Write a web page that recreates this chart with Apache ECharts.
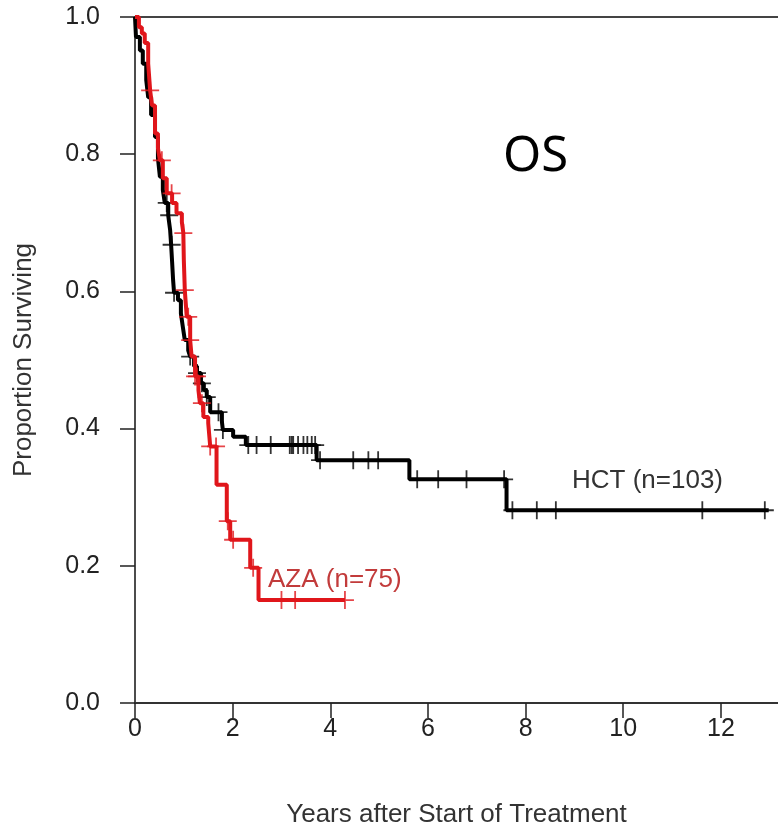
<!DOCTYPE html>
<html>
<head>
<meta charset="utf-8">
<script src="https://cdn.jsdelivr.net/npm/echarts@6/dist/echarts.min.js"></script>
<style>
  html, body { margin: 0; padding: 0; background: #fff; }
  #main { width: 778px; height: 827px; }
</style>
</head>
<body>
<div id="main"></div>
<script>
// Kaplan-Meier steps (time in years, proportion surviving)
const hctTimes = [0, 0.02, 0.10, 0.16, 0.23, 0.27, 0.33, 0.41, 0.47, 0.51, 0.57, 0.61, 0.68, 0.72, 0.74, 0.76, 0.78, 0.80, 0.88, 0.94, 0.98, 1.02, 1.09, 1.13, 1.21, 1.27, 1.35, 1.41, 1.47, 1.54, 1.78, 1.80, 2.01, 2.27, 3.72, 5.62, 7.61, 12.98]
const hctSurv = [1.0, 0.971, 0.951, 0.932, 0.908, 0.883, 0.857, 0.825, 0.794, 0.767, 0.748, 0.729, 0.711, 0.689, 0.668, 0.643, 0.617, 0.598, 0.587, 0.568, 0.548, 0.529, 0.514, 0.505, 0.491, 0.481, 0.466, 0.456, 0.446, 0.424, 0.410, 0.398, 0.388, 0.376, 0.354, 0.326, 0.281, 0.281]
const hctCensored = [0.65, 0.70, 0.75, 0.80, 1.13, 1.27, 1.37, 1.47, 1.71, 1.80, 2.32, 2.49, 2.78, 3.17, 3.21, 3.24, 3.34, 3.45, 3.53, 3.62, 3.69, 3.79, 4.47, 4.78, 4.98, 5.78, 6.21, 6.79, 7.56, 7.73, 8.23, 8.62, 11.62, 12.9]

const azaTimes = [0, 0.08, 0.14, 0.20, 0.27, 0.31, 0.35, 0.41, 0.47, 0.51, 0.57, 0.65, 0.76, 0.85, 0.96, 0.99, 1.00, 1.01, 1.02, 1.06, 1.13, 1.16, 1.23, 1.30, 1.33, 1.40, 1.50, 1.54, 1.67, 1.88, 1.95, 2.36, 2.53, 4.30]
const azaSurv = [1.0, 0.985, 0.976, 0.962, 0.932, 0.893, 0.871, 0.830, 0.809, 0.791, 0.765, 0.743, 0.729, 0.714, 0.701, 0.685, 0.646, 0.624, 0.602, 0.563, 0.529, 0.505, 0.476, 0.456, 0.437, 0.417, 0.408, 0.374, 0.318, 0.265, 0.238, 0.197, 0.150, 0.150]
const azaCensored = [0.31, 0.55, 0.75, 0.99, 1.02, 1.09, 1.13, 1.23, 1.27, 1.37, 1.54, 1.66, 1.90, 2.01, 2.42, 3.00, 3.28, 4.30]

const xTicks = [0, 2, 4, 6, 8, 10, 12]
const yTicks = [0, 0.2, 0.4, 0.6, 0.8, 1.0]

// survival value at time t from the step arrays
function survAt(times, surv, t) {
  let s = surv[0]
  for (let i = 0; i < times.length; i++) {
    if (times[i] <= t) s = surv[i]
  }
  return s
}

const plus = 'path://M9,0 L11,0 L11,20 L9,20 Z M0,9 L20,9 L20,11 L0,11 Z'
const font = '"Liberation Sans", Arial, sans-serif'

const chart = echarts.init(document.getElementById('main'))
chart.setOption({
  animation: false,
  grid: { left: 135, right: 0, top: 17, bottom: 124, outerBoundsMode: 'none', containLabel: false },
  xAxis: [{
    type: 'value',
    min: 0,
    max: 13.17,
    interval: 2,
    name: 'Years after Start of Treatment',
    nameLocation: 'middle',
    nameGap: 99,
    nameTextStyle: { fontFamily: font, fontSize: 26, color: '#333' },
    axisLine: { lineStyle: { color: '#333', width: 2 } },
    axisTick: { length: 15, lineStyle: { color: '#222', width: 1.5 } },
    axisLabel: {
      margin: 14,
      fontFamily: font,
      fontSize: 25,
      color: '#222',
      showMaxLabel: false,
      formatter: v => xTicks.indexOf(v) >= 0 ? String(v) : ''
    },
    splitLine: { show: false }
  }, {
    type: 'value',
    position: 'top',
    min: 0,
    max: 13.17,
    axisLine: { show: true, lineStyle: { color: '#444', width: 2 } },
    axisTick: { show: false },
    axisLabel: { show: false },
    splitLine: { show: false }
  }],
  yAxis: {
    type: 'value',
    min: 0,
    max: 1,
    interval: 0.2,
    name: 'Proportion Surviving',
    nameLocation: 'middle',
    nameGap: 98,
    nameTextStyle: { fontFamily: font, fontSize: 26, color: '#333' },
    axisLine: { show: true, lineStyle: { color: '#111', width: 1.5 } },
    axisTick: { show: true, length: 15, lineStyle: { color: '#222', width: 1.5 } },
    axisLabel: {
      margin: 35,
      fontFamily: font,
      fontSize: 25,
      color: '#222',
      formatter: v => yTicks.some(t => Math.abs(t - v) < 1e-9) ? v.toFixed(1) : ''
    },
    splitLine: { show: false }
  },
  graphic: [
    { type: 'text', left: 503, top: 133, style: { text: 'OS', font: '49px "Noto Sans", sans-serif', fill: '#000' } },
    { type: 'text', left: 572, top: 468, style: { text: 'HCT (n=103)', font: '26px "Liberation Sans", Arial, sans-serif', fill: '#333' } },
    { type: 'text', left: 268, top: 567, style: { text: 'AZA (n=75)', font: '26px "Liberation Sans", Arial, sans-serif', fill: '#c23b3b' } }
  ],
  series: [{
    name: 'HCT',
    type: 'line',
    step: 'end',
    symbol: 'none',
    lineStyle: { color: '#000', width: 4 },
    data: hctTimes.map((t, i) => [t, hctSurv[i]]),
    z: 2
  }, {
    name: 'HCT censored',
    type: 'scatter',
    symbol: plus,
    symbolSize: [18, 18],
    itemStyle: { color: '#000' },
    data: hctCensored.map(t => [t, survAt(hctTimes, hctSurv, t)]),
    z: 3
  }, {
    name: 'AZA',
    type: 'line',
    step: 'end',
    symbol: 'none',
    lineStyle: { color: '#e0161b', width: 4 },
    data: azaTimes.map((t, i) => [t, azaSurv[i]]),
    z: 4
  }, {
    name: 'AZA censored',
    type: 'scatter',
    symbol: plus,
    symbolSize: [18, 18],
    itemStyle: { color: '#e0161b' },
    data: azaCensored.map(t => [t, survAt(azaTimes, azaSurv, t)]),
    z: 5
  }]
})
</script>
</body>
</html>
